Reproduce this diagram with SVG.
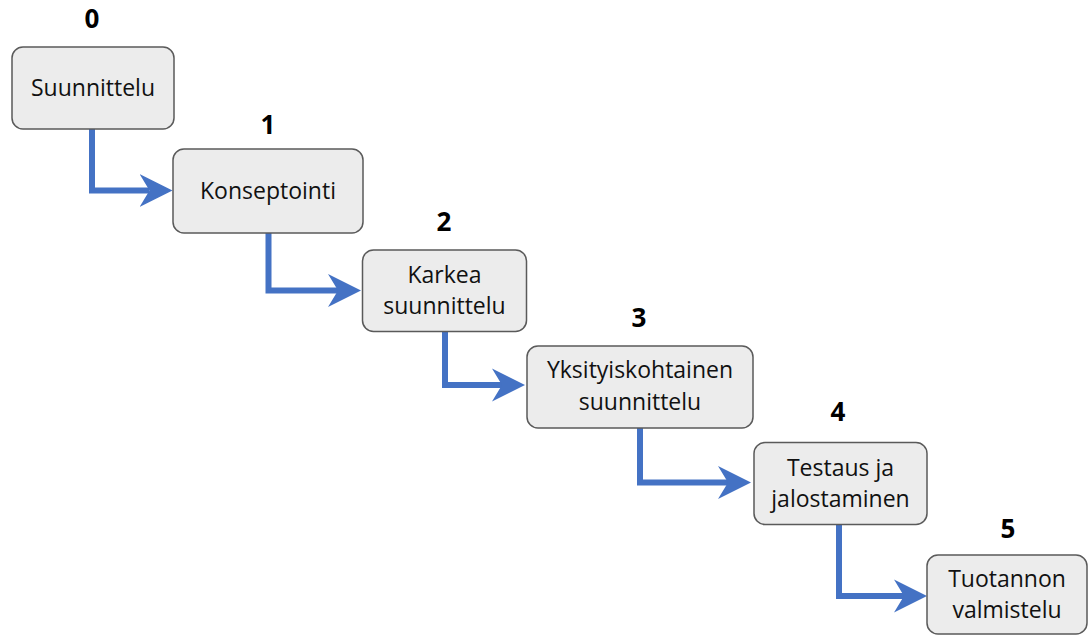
<svg xmlns="http://www.w3.org/2000/svg" width="1089" height="635" viewBox="0 0 1089 635">
  <style>
    .box { fill: #ececec; stroke: #5a5a5a; stroke-width: 1.5; }
    .label { font-family: "Open Sans", "Liberation Sans", sans-serif; font-size: 23px; fill: #111; text-anchor: middle; }
    .num { font-family: "Open Sans", "Liberation Sans", sans-serif; font-size: 26px; font-weight: bold; fill: #000; text-anchor: middle; }
    .conn { fill: none; stroke: #4472c4; stroke-width: 6; marker-end: url(#stealth); }
  </style>
  <defs>
    <marker id="stealth" markerUnits="userSpaceOnUse" markerWidth="34" markerHeight="34" viewBox="0 -17 34 34" refX="10" refY="0" orient="auto">
      <path d="M0,-16.5 L33,0 L0,16.5 L10,0 Z" fill="#4472c4"/>
    </marker>
  </defs>

  <rect width="1089" height="635" fill="#ffffff"/>

  <!-- connectors: elbow from each step down and into the next -->
  <g id="connectors">
    <path class="conn" d="M92,129 V190.5 H149.5"/>
    <path class="conn" d="M268.5,232 V290.5 H338"/>
    <path class="conn" d="M445,331 V385 H502"/>
    <path class="conn" d="M640,428 V482.5 H728"/>
    <path class="conn" d="M839,524 V596 H904"/>
  </g>

  <g id="step0">
    <text class="num" x="92" y="28">0</text>
    <rect class="box" x="12" y="47" width="162" height="82" rx="11"/>
    <text class="label" x="93" y="96">Suunnittelu</text>
  </g>

  <g id="step1">
    <text class="num" x="268" y="134">1</text>
    <rect class="box" x="173" y="149" width="190" height="84" rx="11"/>
    <text class="label" x="268" y="199">Konseptointi</text>
  </g>

  <g id="step2">
    <text class="num" x="444" y="231">2</text>
    <rect class="box" x="362.5" y="250" width="164" height="81.5" rx="11"/>
    <text class="label" x="444.5" y="283">Karkea</text>
    <text class="label" x="444.5" y="314">suunnittelu</text>
  </g>

  <g id="step3">
    <text class="num" x="639" y="327">3</text>
    <rect class="box" x="527" y="346" width="226" height="82" rx="11"/>
    <text class="label" x="640" y="378">Yksityiskohtainen</text>
    <text class="label" x="640" y="410">suunnittelu</text>
  </g>

  <g id="step4">
    <text class="num" x="838" y="421">4</text>
    <rect class="box" x="754" y="442.5" width="173" height="82" rx="11"/>
    <text class="label" x="840.5" y="476">Testaus ja</text>
    <text class="label" x="840.5" y="507">jalostaminen</text>
  </g>

  <g id="step5">
    <text class="num" x="1008" y="538">5</text>
    <rect class="box" x="927" y="555" width="160" height="79" rx="11"/>
    <text class="label" x="1007" y="587">Tuotannon</text>
    <text class="label" x="1007" y="618">valmistelu</text>
  </g>
</svg>
